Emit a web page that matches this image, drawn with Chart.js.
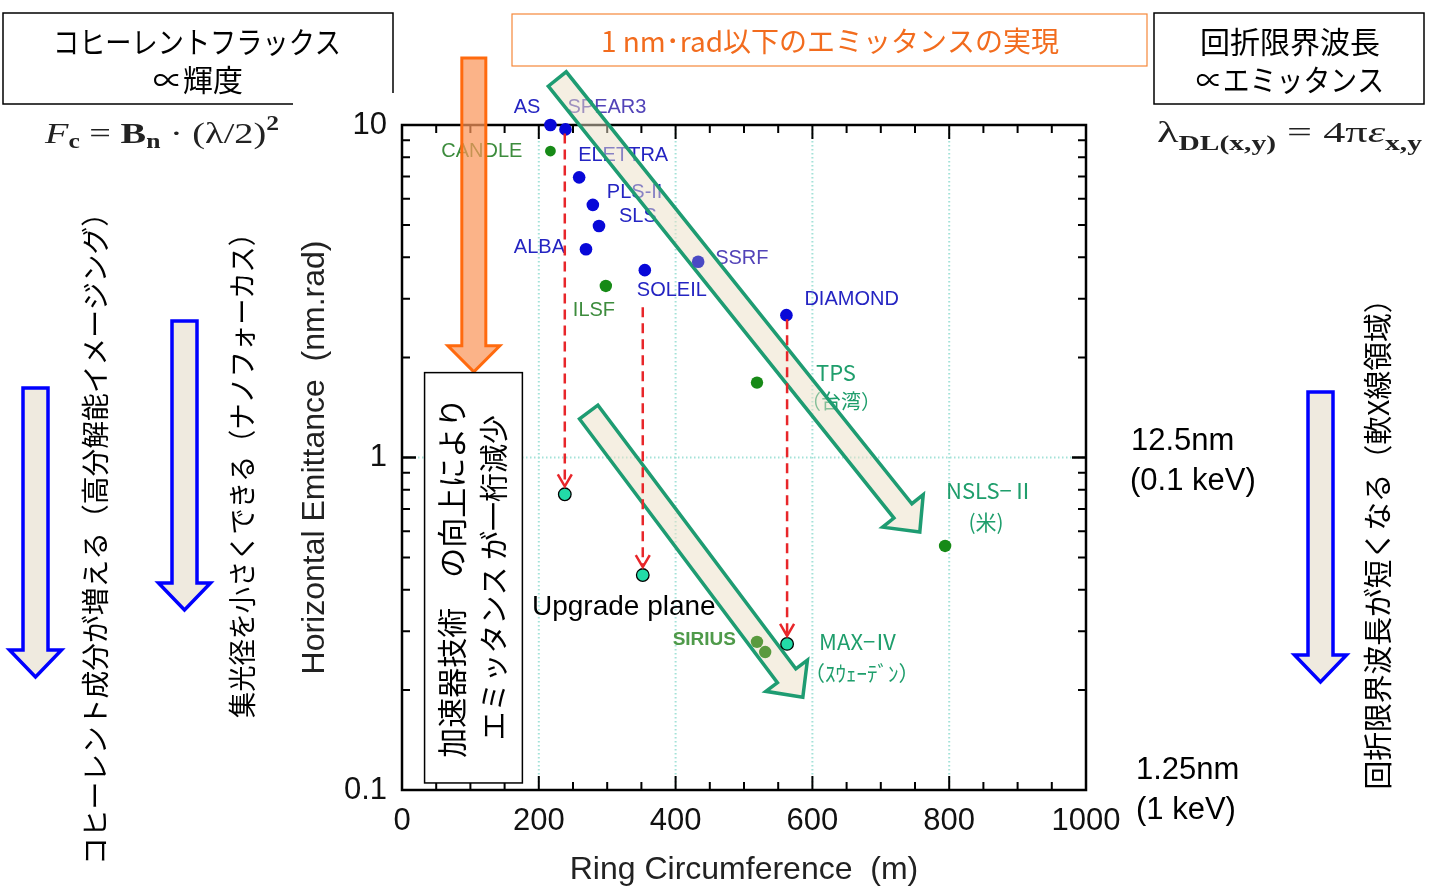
<!DOCTYPE html>
<html>
<head>
<meta charset="utf-8">
<script src="https://cdn.jsdelivr.net/npm/chart.js@4.4.1/dist/chart.umd.min.js"></script>
<style>
  html, body { margin: 0; padding: 0; background: #fff; }
  canvas { display: block; }
</style>
</head>
<body>
<canvas id="chart" width="1440" height="886"></canvas>
<script>
// existing light sources (blue)
const existNames = ['AS', 'SPEAR3', 'ELETTRA', 'PLS-II', 'SLS', 'ALBA', 'SOLEIL', 'SSRF', 'DIAMOND'];
const existCirc  = [217, 239, 259, 279, 288, 269, 355, 433, 562];
const existEmit  = [10.0, 9.7, 6.96, 5.75, 4.97, 4.23, 3.66, 3.88, 2.68];

// new / planned sources (green)
const newNames = ['CANDLE', 'ILSF', 'TPS', 'NSLS-II', 'SIRIUS', 'SIRIUS'];
const newCirc  = [217, 298, 519, 794, 519, 531];
const newEmit  = [8.35, 3.28, 1.68, 0.542, 0.279, 0.26];

// upgrade plans (cyan)
const upNames = ['SPEAR3 upgrade', 'SOLEIL upgrade', 'MAX-IV'];
const upCirc  = [238, 352, 563];
const upEmit  = [0.775, 0.443, 0.275];
const upFrom  = ['SPEAR3', 'SOLEIL', 'DIAMOND'];

const xTicks = [0, 200, 400, 600, 800, 1000];
const yTicks = [0.1, 1, 10];

const BLUE = '#2424c2', PURPLE = '#5243b8', GREEN = '#3d8c3d', TEAL = '#1f9e6c';
const LAT = '20px "Liberation Sans"';
const CJK = '"Noto Sans CJK JP"';

// label placement around each point: [text, dx, dy, align, font]
const labelStyle = {
  'AS':      {color: BLUE,   lines: [['AS', -10, -18, 'right', LAT]]},
  'SPEAR3':  {color: PURPLE, lines: [['SPEAR3', 2, -22, 'left', LAT]]},
  'ELETTRA': {color: BLUE,   lines: [['ELETTRA', -1, -22, 'left', LAT]]},
  'PLS-II':  {color: BLUE,   lines: [['PLS-II', 14, -12, 'left', LAT]]},
  'SLS':     {color: BLUE,   lines: [['SLS', 20, -9, 'left', LAT]]},
  'ALBA':    {color: BLUE,   lines: [['ALBA', -21, -2, 'right', LAT]]},
  'SOLEIL':  {color: BLUE,   lines: [['SOLEIL', -8, 20, 'left', LAT]]},
  'SSRF':    {color: PURPLE, lines: [['SSRF', 17, -3, 'left', LAT]]},
  'DIAMOND': {color: BLUE,   lines: [['DIAMOND', 18, -16, 'left', LAT]]},
  'CANDLE':  {color: GREEN,  lines: [['CANDLE', -28, 0, 'right', LAT]]},
  'ILSF':    {color: GREEN,  lines: [['ILSF', -33, 25, 'left', LAT]]},
  'SIRIUS':  {color: '#4f9a4a', lines: [['SIRIUS', -21, -2, 'right', 'bold 19px "Liberation Sans"']]},
  'TPS':     {color: TEAL,   lines: [['TPS', 59, -10, 'left', '22px ' + CJK], ['（台湾）', 44, 19, 'left', '20px ' + CJK]]},
  'NSLS-II': {color: TEAL,   lines: [['NSLS−Ⅱ', 1, -55, 'left', '22px ' + CJK], ['(米)', 41, -24, 'center', '21px ' + CJK]]},
  'MAX-IV':  {color: TEAL,   lines: [['MAX−Ⅳ', 32, -2, 'left', '22px ' + CJK], ['（ｽｳｪｰﾃﾞﾝ）', 17, 29, 'left', '21px ' + CJK]]}
};

// big diagonal arrows in data coordinates [x0, y0, x1, y1]
const trendArrows = [[227, 13.75, 757, 0.597], [273, 1.37, 586, 0.19]];

function toXY(xs, ys) { return xs.map((v, i) => ({x: v, y: ys[i]})); }

function fatArrow(ctx, x0, y0, x1, y1, sw, hw, hl) {
  const dx = x1 - x0, dy = y1 - y0, L = Math.hypot(dx, dy);
  const ux = dx / L, uy = dy / L, nx = -uy, ny = ux;
  const bx = x1 - ux * hl, by = y1 - uy * hl;
  ctx.beginPath();
  ctx.moveTo(x0 + nx * sw, y0 + ny * sw);
  ctx.lineTo(bx + nx * sw, by + ny * sw);
  ctx.lineTo(bx + nx * hw, by + ny * hw);
  ctx.lineTo(x1, y1);
  ctx.lineTo(bx - nx * hw, by - ny * hw);
  ctx.lineTo(bx - nx * sw, by - ny * sw);
  ctx.lineTo(x0 - nx * sw, y0 - ny * sw);
  ctx.closePath();
}

function vText(ctx, text, cx, cy, font, maxW) {
  ctx.save();
  ctx.translate(cx, cy);
  ctx.rotate(-Math.PI / 2);
  ctx.font = font;
  ctx.textAlign = 'center';
  ctx.textBaseline = 'middle';
  ctx.fillText(text, 0, 0, maxW);
  ctx.restore();
}

function rich(ctx, segs, x, y, w) {
  let tot = 0;
  segs.forEach(s => { ctx.font = s[1]; tot += ctx.measureText(s[0]).width; });
  ctx.save();
  ctx.translate(x, y);
  ctx.scale(w / tot, 1);
  ctx.textAlign = 'left';
  ctx.textBaseline = 'alphabetic';
  let cx = 0;
  segs.forEach(s => {
    ctx.font = s[1];
    ctx.fillText(s[0], cx, s[2]);
    cx += ctx.measureText(s[0]).width;
  });
  ctx.restore();
}

const deco = {
  id: 'deco',
  beforeDraw(chart) {
    const ctx = chart.ctx;
    ctx.save();
    ctx.fillStyle = '#fff';
    ctx.fillRect(0, 0, chart.width, chart.height);
    ctx.restore();
  },
  beforeDatasetsDraw(chart) {
    const ctx = chart.ctx, a = chart.chartArea, sx = chart.scales.x, sy = chart.scales.y;
    ctx.save();
    // dotted grid
    ctx.strokeStyle = '#a3e2d8';
    ctx.lineWidth = 2;
    ctx.setLineDash([1.5, 2.5]);
    xTicks.slice(1, -1).forEach(v => {
      const p = sx.getPixelForValue(v);
      ctx.beginPath(); ctx.moveTo(p, a.top); ctx.lineTo(p, a.bottom); ctx.stroke();
    });
    const p1 = sy.getPixelForValue(1);
    ctx.beginPath(); ctx.moveTo(a.left, p1); ctx.lineTo(a.right, p1); ctx.stroke();
    ctx.setLineDash([]);

    // frame and inward ticks
    ctx.strokeStyle = '#000';
    ctx.lineWidth = 2;
    for (let v = 0; v <= 1000; v += 50) {
      const p = sx.getPixelForValue(v), len = v % 200 === 0 ? 14 : 8;
      ctx.beginPath();
      ctx.moveTo(p, a.bottom); ctx.lineTo(p, a.bottom - len);
      ctx.moveTo(p, a.top); ctx.lineTo(p, a.top + len);
      ctx.stroke();
    }
    [0.1, 1].forEach(dec => {
      for (let m = 1; m <= 10; m++) {
        const p = sy.getPixelForValue(dec * m), len = (m === 1 || m === 10) ? 14 : 8;
        ctx.beginPath();
        ctx.moveTo(a.left, p); ctx.lineTo(a.left + len, p);
        ctx.moveTo(a.right, p); ctx.lineTo(a.right - len, p);
        ctx.stroke();
      }
    });
    ctx.lineWidth = 2.5;
    ctx.strokeRect(a.left, a.top, a.right - a.left, a.bottom - a.top);

    // point labels
    const drawLabels = (names, xs, ys) => {
      const seen = {};
      names.forEach((n, i) => {
        const st = labelStyle[n];
        if (!st || seen[n]) return;
        seen[n] = true;
        const px = sx.getPixelForValue(xs[i]), py = sy.getPixelForValue(ys[i]);
        ctx.fillStyle = st.color;
        ctx.textBaseline = 'middle';
        st.lines.forEach(l => {
          ctx.font = l[4];
          ctx.textAlign = l[3];
          ctx.fillText(l[0], px + l[1], py + l[2]);
        });
      });
    };
    drawLabels(existNames, existCirc, existEmit);
    drawLabels(newNames, newCirc, newEmit);
    drawLabels(upNames, upCirc, upEmit);

    // "Upgrade plane"
    ctx.fillStyle = '#000';
    ctx.font = '28px "Liberation Sans"';
    ctx.textAlign = 'left';
    ctx.textBaseline = 'middle';
    ctx.fillText('Upgrade plane', sx.getPixelForValue(190), sy.getPixelForValue(0.354));

    // big trend arrows
    ctx.lineJoin = 'miter';
    trendArrows.forEach(t => {
      const x0 = sx.getPixelForValue(t[0]), y0 = sy.getPixelForValue(t[1]);
      const x1 = sx.getPixelForValue(t[2]), y1 = sy.getPixelForValue(t[3]);
      fatArrow(ctx, x0, y0, x1, y1, 11.5, 26, 27);
      ctx.fillStyle = 'rgba(236,224,198,0.5)';
      ctx.fill();
      ctx.strokeStyle = '#1e9c72';
      ctx.lineWidth = 3.5;
      ctx.stroke();
    });
    ctx.restore();
  },
  afterDatasetsDraw(chart) {
    const ctx = chart.ctx, sx = chart.scales.x, sy = chart.scales.y;
    ctx.save();
    // red dashed arrows: existing -> upgrade
    ctx.strokeStyle = '#e8262a';
    ctx.lineWidth = 2.5;
    const startGap = {'SPEAR3': 4, 'SOLEIL': 37, 'DIAMOND': 4};
    upFrom.forEach((from, i) => {
      const k = existNames.indexOf(from);
      const x = sx.getPixelForValue(upCirc[i]);
      const y0 = sy.getPixelForValue(existEmit[k]) + startGap[from];
      const y1 = sy.getPixelForValue(upEmit[i]) - 8;
      ctx.setLineDash([10, 6]);
      ctx.beginPath(); ctx.moveTo(x, y0); ctx.lineTo(x, y1 - 2); ctx.stroke();
      ctx.setLineDash([]);
      ctx.beginPath();
      ctx.moveTo(x - 7, y1 - 12); ctx.lineTo(x, y1); ctx.lineTo(x + 7, y1 - 12);
      ctx.stroke();
    });

    // orange arrow
    const ox = sx.getPixelForValue(105);
    fatArrow(ctx, ox, sy.getPixelForValue(15.9), ox, sy.getPixelForValue(1.81), 12, 26, 26);
    ctx.fillStyle = 'rgba(250,150,90,0.72)';
    ctx.fill();
    ctx.strokeStyle = '#ff6a0e';
    ctx.lineWidth = 3;
    ctx.stroke();

    // note box inside the plot
    const bx0 = sx.getPixelForValue(33), bx1 = sx.getPixelForValue(176);
    const by0 = sy.getPixelForValue(1.8), by1 = sy.getPixelForValue(0.105);
    ctx.fillStyle = '#fff';
    ctx.fillRect(bx0, by0, bx1 - bx0, by1 - by0);
    ctx.strokeStyle = '#000';
    ctx.lineWidth = 1.5;
    ctx.strokeRect(bx0, by0, bx1 - bx0, by1 - by0);
    ctx.fillStyle = '#000';
    const cy = (by0 + by1) / 2;
    vText(ctx, '加速器技術　の向上により', bx0 + 27, cy, '30px ' + CJK, 360);
    vText(ctx, 'エミッタンス が一桁減少', bx0 + 69, cy, '29px ' + CJK, 326);
    ctx.restore();
  },
  afterDraw(chart) {
    const ctx = chart.ctx;
    ctx.save();
    ctx.fillStyle = '#000';
    ctx.strokeStyle = '#000';
    ctx.lineWidth = 1.5;
    // top-left box (lower right corner hidden by the figure)
    ctx.beginPath();
    ctx.moveTo(393, 93); ctx.lineTo(393, 13); ctx.lineTo(3, 13); ctx.lineTo(3, 104); ctx.lineTo(293, 104);
    ctx.stroke();
    ctx.textAlign = 'center';
    ctx.textBaseline = 'middle';
    ctx.font = '30px ' + CJK;
    ctx.fillText('コヒーレントフラックス', 197, 42, 288);
    ctx.fillText('∝輝度', 198, 80);

    // top-right box
    ctx.strokeRect(1154, 13, 270, 91);
    ctx.fillText('回折限界波長', 1290, 42, 188);
    ctx.fillText('∝エミッタンス', 1290, 80, 188);

    // top-middle orange box
    ctx.strokeStyle = '#f5883a';
    ctx.lineWidth = 1.2;
    ctx.strokeRect(512, 14, 635, 52);
    ctx.fillStyle = '#f26c1e';
    ctx.font = '28px ' + CJK;
    ctx.fillText('1 nm･rad以下のエミッタンスの実現', 830, 41, 468);

    // formulas
    ctx.fillStyle = '#222';
    const S = '"Liberation Serif"';
    rich(ctx, [['F', 'italic 30px ' + S, 0], ['c', 'bold 20px ' + S, 5], [' = ', '30px ' + S, 0],
               ['B', 'bold 30px ' + S, 0], ['n', 'bold 20px ' + S, 5], [' · (λ/2)', '30px ' + S, 0],
               ['2', 'bold 20px ' + S, -13]], 45, 143, 234);
    rich(ctx, [['λ', '30px ' + S, 0], ['DL(x,y)', 'bold 20px ' + S, 8], [' = 4π', '30px ' + S, 0],
               ['ε', 'italic 30px ' + S, 0], ['x,y', 'bold 20px ' + S, 8]], 1157, 142, 265);

    // blue side arrows
    ctx.lineJoin = 'miter';
    [[35.5, 388, 677], [184.5, 321, 610], [1320.5, 392, 682]].forEach(b => {
      fatArrow(ctx, b[0], b[1], b[0], b[2], 12.5, 26, 27);
      ctx.fillStyle = '#efeadf';
      ctx.fill();
      ctx.strokeStyle = '#0000ff';
      ctx.lineWidth = 3.5;
      ctx.stroke();
    });

    // vertical captions
    ctx.fillStyle = '#000';
    vText(ctx, 'コヒーレント成分が増える（高分解能イメージング）', 95, 532, '28px ' + CJK, 666);
    vText(ctx, '集光径を小さくできる（ナノフォーカス）', 242, 469, '28px ' + CJK, 498);
    vText(ctx, '回折限界波長が短くなる（軟X線領域）', 1378, 537, '29px ' + CJK, 505);

    // wavelength notes
    ctx.textAlign = 'left';
    ctx.font = '31px "Liberation Sans"';
    ctx.fillText('12.5nm', 1131, 441);
    ctx.fillText('(0.1 keV)', 1130, 481);
    ctx.fillText('1.25nm', 1136, 770);
    ctx.fillText('(1 keV)', 1136, 810);
    ctx.restore();
  }
};

Chart.defaults.font.family = '"Liberation Sans", Arial, sans-serif';
Chart.defaults.color = '#111';

new Chart(document.getElementById('chart'), {
  type: 'scatter',
  data: {
    datasets: [
      {
        label: 'Upgrade',
        data: toXY(upCirc, upEmit),
        backgroundColor: '#22dba8',
        borderColor: '#000',
        borderWidth: 1.3,
        pointRadius: 6.3,
        clip: false
      },
      {
        label: 'Existing',
        data: toXY(existCirc, existEmit),
        backgroundColor: existNames.map(n => n === 'SSRF' ? '#4a4ac4' : '#0808d8'),
        borderWidth: 0,
        pointRadius: 6.3,
        clip: false
      },
      {
        label: 'New',
        data: toXY(newCirc, newEmit),
        backgroundColor: newNames.map(n => n === 'SIRIUS' ? '#5a9a3e' : '#178a17'),
        borderWidth: 0,
        pointRadius: newNames.map(n => n === 'CANDLE' ? 5.4 : 6.2),
        clip: false
      }
    ]
  },
  options: {
    responsive: false,
    animation: false,
    layout: { padding: { left: 296, right: 354, top: 125, bottom: 0 } },
    plugins: { legend: { display: false }, tooltip: { enabled: false } },
    scales: {
      x: {
        type: 'linear',
        min: 0,
        max: 1000,
        afterFit: s => { s.height = 96; },
        afterBuildTicks: s => { s.ticks = xTicks.map(v => ({value: v})); },
        grid: { display: false, drawTicks: false },
        border: { display: false },
        ticks: { font: { size: 31 }, padding: 13, maxRotation: 0, callback: v => String(v) },
        title: { display: true, text: 'Ring Circumference  (m)', font: { size: 32 }, color: '#222', padding: { top: 0, bottom: -3 } }
      },
      y: {
        type: 'logarithmic',
        min: 0.1,
        max: 10,
        afterFit: s => { s.width = 106; },
        afterBuildTicks: s => { s.ticks = yTicks.map(v => ({value: v})); },
        grid: { display: false, drawTicks: false },
        border: { display: false },
        ticks: { font: { size: 31 }, padding: 15, callback: v => String(v) },
        title: { display: true, text: 'Horizontal Emittance  (nm.rad)', font: { size: 32 }, color: '#222', padding: 0 }
      }
    }
  },
  plugins: [deco]
});
</script>
</body>
</html>
